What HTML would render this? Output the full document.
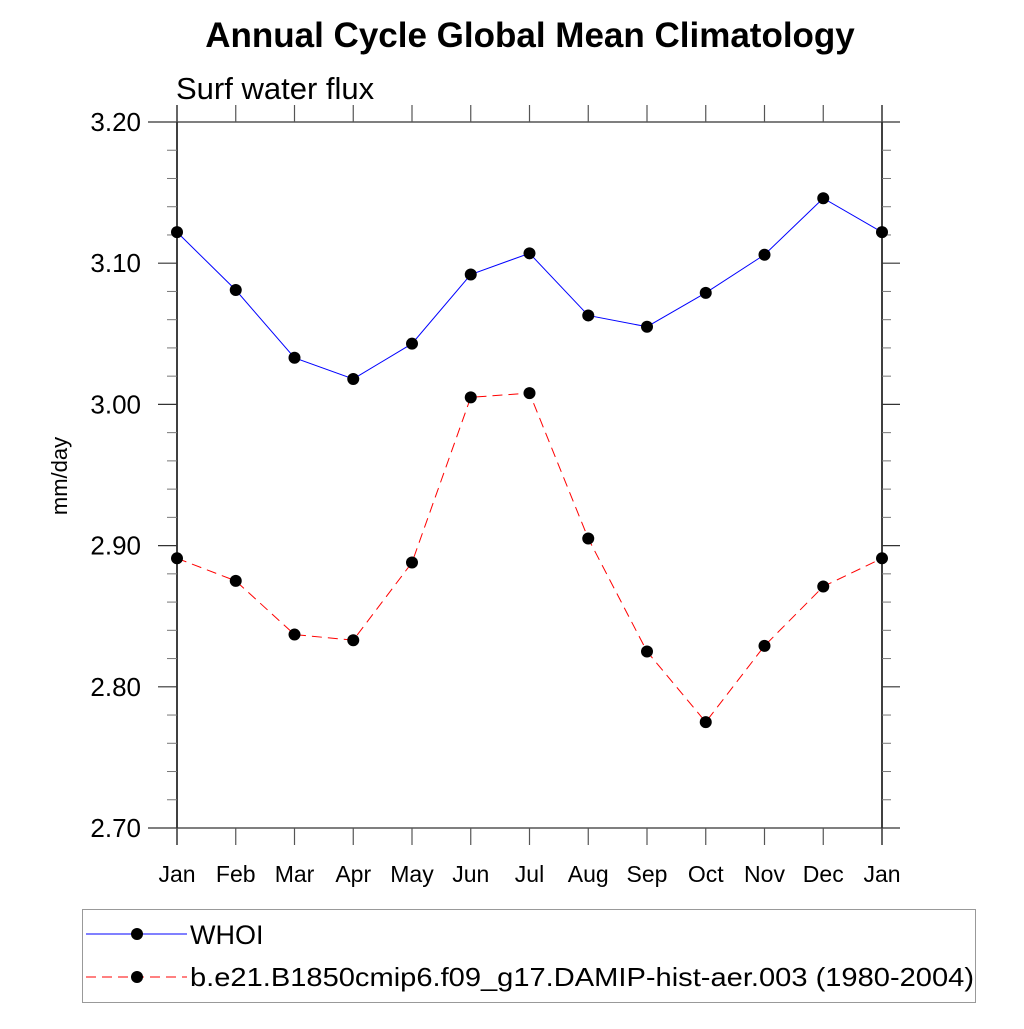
<!DOCTYPE html>
<html><head><meta charset="utf-8"><style>
body{margin:0;background:#fff;width:1024px;height:1024px;overflow:hidden}
svg text{font-family:"Liberation Sans",sans-serif}
</style></head><body>
<svg id="chart" width="1024" height="1024" xmlns="http://www.w3.org/2000/svg">
<text x="530" y="47" font-size="35" font-weight="bold" text-anchor="middle">Annual Cycle Global Mean Climatology</text>
<text x="176" y="99" font-size="31">Surf water flux</text>
<text transform="translate(67,476) rotate(-90)" font-size="22" text-anchor="middle">mm/day</text>
<g id="axes"></g>
<g id="marks"></g>
<g>
<rect x="82.5" y="909.5" width="893" height="93" fill="none" stroke="#999" stroke-width="1"/>
<line x1="86" y1="934" x2="187" y2="934" stroke="#00f" stroke-width="1"/>
<circle cx="137" cy="934" r="6" fill="#000"/>
<text x="190" y="944" font-size="27">WHOI</text>
<line x1="86" y1="977" x2="187" y2="977" stroke="#f00" stroke-width="1" stroke-dasharray="10,6"/>
<circle cx="137" cy="977" r="6" fill="#000"/>
<text x="190" y="986" font-size="26" textLength="784" lengthAdjust="spacingAndGlyphs">b.e21.B1850cmip6.f09_g17.DAMIP-hist-aer.003 (1980-2004)</text>
</g>
</svg>
<script>
const months = ["Jan","Feb","Mar","Apr","May","Jun","Jul","Aug","Sep","Oct","Nov","Dec","Jan"];
const whoi = [3.122,3.081,3.033,3.018,3.043,3.092,3.107,3.063,3.055,3.079,3.106,3.146,3.122];
const model = [2.891,2.875,2.837,2.833,2.888,3.005,3.008,2.905,2.825,2.775,2.829,2.871,2.891];
const yTicks = [2.70,2.80,2.90,3.00,3.10,3.20];
const yTickLabels = ["2.70","2.80","2.90","3.00","3.10","3.20"];

const X0=177,X1=882,Y0=828,Y1=122,YMIN=2.7,YMAX=3.2;
const xs=i=>X0+(X1-X0)*i/(months.length-1);
const ys=v=>Y0-(v-YMIN)/(YMAX-YMIN)*(Y0-Y1);
const NS="http://www.w3.org/2000/svg";
const axes=document.getElementById('axes'), marks=document.getElementById('marks');
function mk(tag,attrs,parent){const e=document.createElementNS(NS,tag);for(const k in attrs)e.setAttribute(k,attrs[k]);parent.appendChild(e);return e;}
let e;
e=mk('line',{x1:X0,y1:105,x2:X0,y2:845,stroke:'#000','stroke-width':1.5},axes);


e=mk('line',{x1:X1,y1:105,x2:X1,y2:845,stroke:'#000','stroke-width':1.5},axes);


for(let i=0;i<yTicks.length;i++){
  const y=ys(yTicks[i]);
  const full=(i===0||i===yTicks.length-1);
  e=mk('line',{x1:full?148:158,y1:y,x2:full?900:X0,y2:y,stroke:'#333','stroke-width':1.2},axes);
  
  
  if(!full){e=mk('line',{x1:X1,y1:y,x2:900,y2:y,stroke:'#333','stroke-width':1.2},axes);
  
  }
  e=mk('text',{x:141,y:y+9,'font-size':26,'text-anchor':'end'},axes);
  e.textContent=yTickLabels[i];
  
  
  if(i<yTicks.length-1){
    for(let m=1;m<5;m++){
      const ym=ys(yTicks[i]+(yTicks[i+1]-yTicks[i])*m/5);
      e=mk('line',{x1:167,y1:ym,x2:X0,y2:ym,stroke:'#777','stroke-width':1},axes);
      
      
      e=mk('line',{x1:X1,y1:ym,x2:891,y2:ym,stroke:'#777','stroke-width':1},axes);
      
      
    }
  }
}
for(let i=0;i<months.length;i++){
  const x=xs(i);
  e=mk('line',{x1:x,y1:105,x2:x,y2:Y1,stroke:'#555','stroke-width':1.2},axes);
  
  
  e=mk('line',{x1:x,y1:Y0,x2:x,y2:845,stroke:'#555','stroke-width':1.2},axes);
  
  
  e=mk('text',{x:x,y:882,'font-size':23,'text-anchor':'middle'},axes);
  e.textContent=months[i];
  
  
}
function series(vals,color,dash,name){
  const p=mk('polyline',{points:vals.map((v,i)=>xs(i)+','+ys(v)).join(' '),fill:'none',stroke:color,'stroke-width':1,'stroke-dasharray':dash},marks);
  
  
  vals.forEach((v,i)=>{
    const c=mk('circle',{cx:xs(i),cy:ys(v),r:6,fill:'#000'},marks);
    
    
  });
}
series(whoi,'#00f','none','whoi');
series(model,'#f00','10,6','model');
</script>
</body></html>
